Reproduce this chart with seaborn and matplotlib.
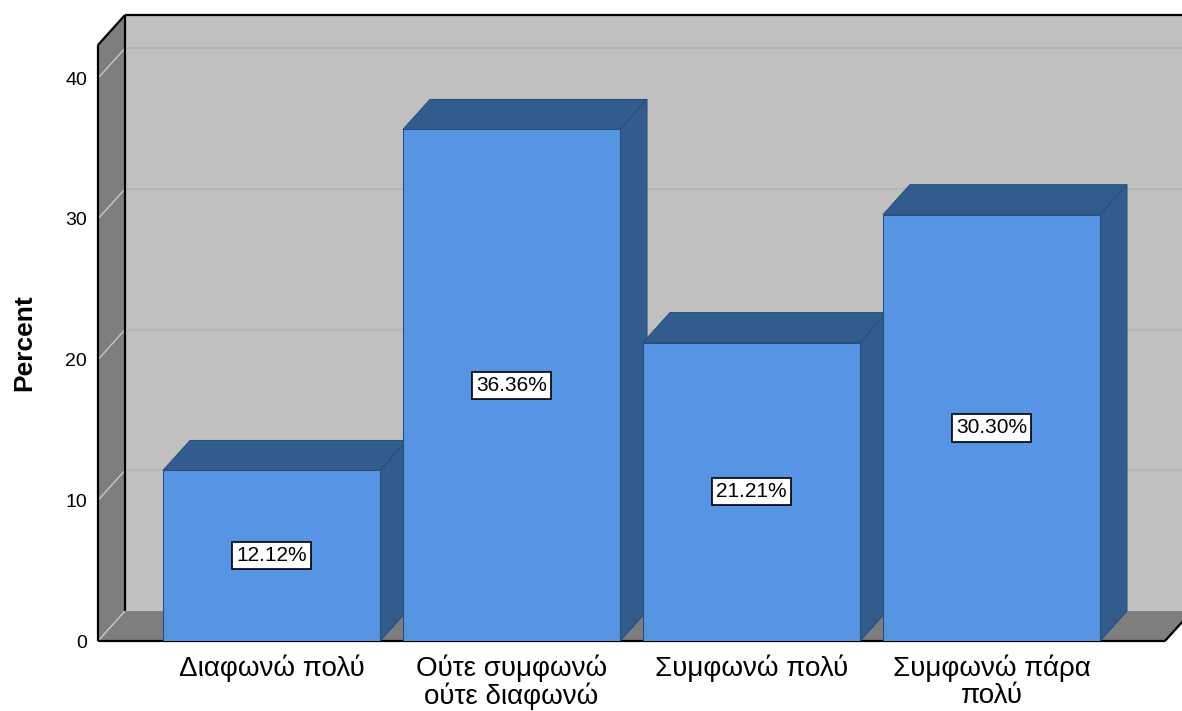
import matplotlib
matplotlib.use("Agg")
import matplotlib.pyplot as plt
import seaborn as sns
from matplotlib.patches import Polygon

# dữ liệu
categories = ['Διαφωνώ πολύ', 'Ούτε συμφωνώ\nούτε διαφωνώ', 'Συμφωνώ πολύ', 'Συμφωνώ πάρα\nπολύ']
percents = [12.12, 36.36, 21.21, 30.30]
yticks = [0, 10, 20, 30, 40]
bar_labels = ['12.12%', '36.36%', '21.21%', '30.30%']

sns.set_style("white")
plt.rcParams['font.family'] = ['Liberation Sans', 'DejaVu Sans']
plt.rcParams['text.color'] = 'black'
plt.rcParams['xtick.color'] = 'black'
plt.rcParams['ytick.color'] = 'black'
plt.rcParams['axes.labelcolor'] = 'black'

front_col = '#5595E3'
dark_col = '#335C8E'
edge_col = '#2B4E7A'
back_col = '#C0C0C0'
wall_col = '#7E7E7E'

fig = plt.figure(figsize=(11.82, 7.11), dpi=100)
ax = fig.add_axes([98 / 1182, 70 / 711, 1067 / 1182, 596 / 711])
ax.set_facecolor('none')

x0, x1 = -0.723, 3.723
ytop = 42.36
dx, dy = 0.1125, 2.13

# tường sau + sàn + tường trái
ax.add_patch(Polygon([(x0 + dx, dy), (x1 + dx, dy), (x1 + dx, ytop + dy), (x0 + dx, ytop + dy)],
                     closed=True, fc=back_col, ec='none', clip_on=False, zorder=0.5))
for t in yticks[1:]:
    ax.plot([x0 + dx, x1 + dx], [t + dy, t + dy], color='#B5B5B5', lw=1.3, clip_on=False, zorder=0.6)
ax.add_patch(Polygon([(x0, 0), (x0 + dx, dy), (x0 + dx, ytop + dy), (x0, ytop)],
                     closed=True, fc=wall_col, ec='none', clip_on=False, zorder=0.7))
ax.add_patch(Polygon([(x0, 0), (x1, 0), (x1 + dx, dy), (x0 + dx, dy)],
                     closed=True, fc=wall_col, ec='none', clip_on=False, zorder=0.7))
for t in yticks:
    ax.plot([x0, x0 + dx], [t, t + dy], color='#C8C8C8', lw=1.0, clip_on=False, zorder=0.8)

# viền đen
k = dict(color='black', lw=1.6, clip_on=False, zorder=0.9, solid_capstyle='butt')
ax.plot([x0, x0], [0, ytop], **k)
ax.plot([x0 + dx, x0 + dx], [dy, ytop + dy], **k)
ax.plot([x0, x0 + dx], [ytop, ytop + dy], **k)
ax.plot([x0 + dx, x1 + dx + 0.2], [ytop + dy, ytop + dy], **k)
ax.plot([x0, x1], [0, 0], **k)
ax.plot([x1, x1 + dx], [0, dy], **k)

# cột
sns.barplot(x=categories, y=percents, color=front_col, width=0.904, ax=ax,
            edgecolor=edge_col, linewidth=0.8, saturation=1)
for p in ax.patches:
    if not hasattr(p, 'get_width'):
        continue
    bx, w, h = p.get_x(), p.get_width(), p.get_height()
    p.set_zorder(3)
    ax.add_patch(Polygon([(bx, h), (bx + w, h), (bx + w + dx, h + dy), (bx + dx, h + dy)],
                         closed=True, fc=dark_col, ec=edge_col, lw=0.8, zorder=2, clip_on=False))
    ax.add_patch(Polygon([(bx + w, 0), (bx + w + dx, dy), (bx + w + dx, h + dy), (bx + w, h)],
                         closed=True, fc=dark_col, ec=edge_col, lw=0.8, zorder=2, clip_on=False))

for i, v in enumerate(percents):
    ax.text(i, v / 2, bar_labels[i], ha='center', va='center', fontsize=15, zorder=5,
            bbox=dict(boxstyle='square,pad=0.2', fc='white', ec='black', lw=1.2))

ax.set_xlim(x0, x1)
ax.set_ylim(0, ytop)
ax.set_yticks(yticks)
ax.set_yticklabels([str(t) for t in yticks], fontsize=14)
ax.set_xticks(range(len(categories)))
ax.set_xticklabels(categories, fontsize=20, linespacing=1.02)
ax.tick_params(axis='y', length=0, pad=8)
ax.tick_params(axis='x', length=0, pad=10)
for s in ax.spines.values():
    s.set_visible(False)
ax.set_xlabel('')
ax.set_ylabel('Percent', fontsize=19, fontweight='bold')
ax.yaxis.set_label_coords(-0.058, 0.5)

fig.savefig('out.png', dpi=100)
